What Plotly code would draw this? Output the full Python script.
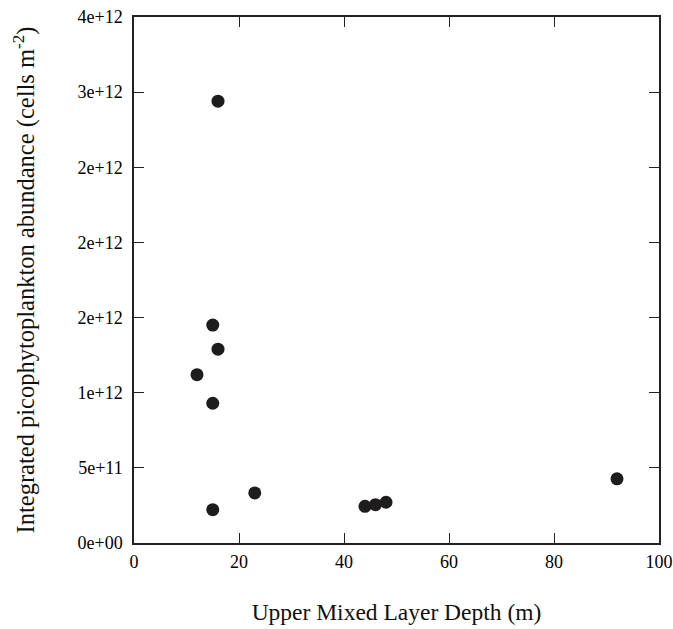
import plotly.graph_objects as go

# Data
mixed_layer_depth = [16, 15, 16, 12, 15, 23, 15, 44, 46, 48, 92]
abundance = [2.94e12, 1.45e12, 1.29e12, 1.12e12, 0.93e12, 3.33e11, 2.22e11,
             2.44e11, 2.55e11, 2.71e11, 4.27e11]

x_ticks = [0, 20, 40, 60, 80, 100]
y_tickvals = [0, 5e11, 1e12, 1.5e12, 2e12, 2.5e12, 3e12, 3.5e12]
y_ticktext = ["0e+00", "5e+11", "1e+12", "2e+12", "2e+12", "2e+12", "3e+12", "4e+12"]

font_family = "Liberation Serif"

fig = go.Figure()
fig.add_trace(go.Scatter(
    x=mixed_layer_depth, y=abundance, mode="markers",
    marker=dict(size=13, color="#1e1c1d"),
    showlegend=False,
))

axis_common = dict(
    showline=True, linecolor="#222", linewidth=1.5, mirror="ticks",
    ticks="inside", ticklen=10, tickwidth=1.3, tickcolor="#222",
    showgrid=False, zeroline=False, automargin=False,
    tickfont=dict(family=font_family, size=18, color="#000"),
)

fig.update_layout(
    width=673, height=629,
    margin=dict(l=134, r=14, t=17, b=86),
    paper_bgcolor="white", plot_bgcolor="white",
    font=dict(family=font_family, color="#111"),
    xaxis=dict(
        range=[0, 100], tickvals=x_ticks,
        ticktext=[str(v) for v in x_ticks],
        ticklabelstandoff=2,
        title=dict(text="Upper Mixed Layer Depth (m)",
                   font=dict(family=font_family, size=23.5), standoff=32),
        **axis_common,
    ),
    yaxis=dict(
        range=[0, 3.5e12], tickvals=y_tickvals, ticktext=y_ticktext,
        ticklabelstandoff=6,
        title=dict(text="Integrated picophytoplankton abundance (cells m<sup>-2</sup>)",
                   font=dict(family=font_family, size=24.5), standoff=36),
        **axis_common,
    ),
)

fig.write_html(
    "out.html",
    config={"displayModeBar": False},
    post_script="document.body.style.margin='0';document.body.style.overflow='hidden';",
)
